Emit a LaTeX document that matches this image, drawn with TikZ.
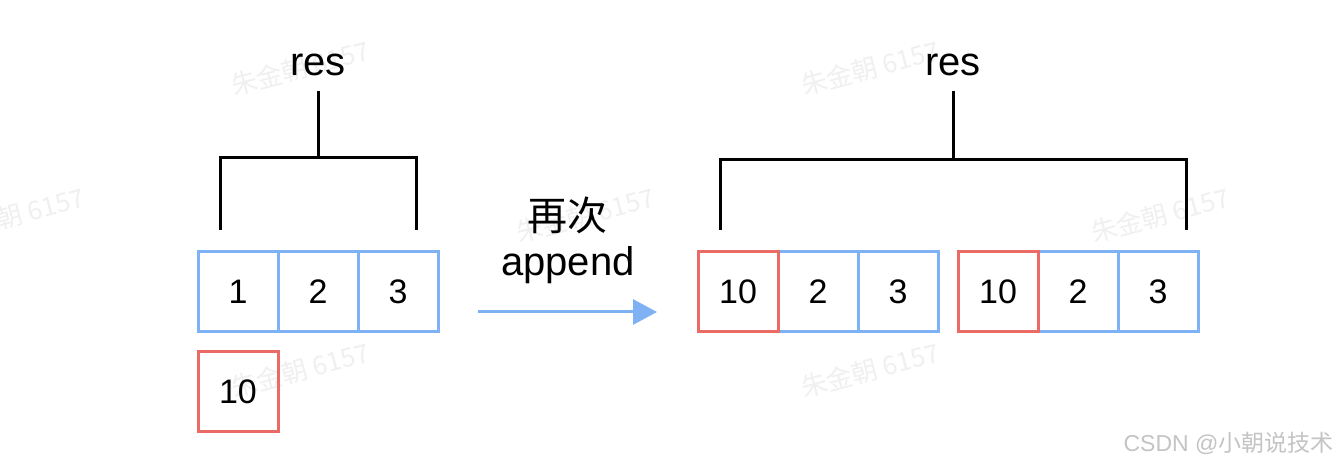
\documentclass[tikz,border=0pt]{standalone}
\usepackage{fontspec}
\setmainfont{Liberation Sans}
\newfontfamily\cjk{Noto Sans CJK SC}
\usetikzlibrary{positioning, arrows.meta}

\definecolor{cellblue}{RGB}{126,178,245}
\definecolor{cellred}{RGB}{234,107,102}
\definecolor{markgray}{RGB}{240,240,240}
\definecolor{csdngray}{RGB}{196,196,196}

\tikzset{
    cell/.style={draw=cellblue, line width=3pt, minimum size=80pt, inner sep=0pt,
                 outer sep=0pt, font=\fontsize{34}{40}\selectfont},
    hot/.style={cell, draw=cellred},
    tag/.style={inner sep=0pt, font=\fontsize{40}{48}\selectfont},
    brace/.style={line width=3pt},
    wmark/.style={text=markgray, rotate=15, font=\cjk\fontsize{26}{30}\selectfont}
}

\begin{document}
\begin{tikzpicture}[x=1pt, y=1pt]
    \useasboundingbox [fill=white] (0, 0) rectangle (1342, 468);

    % watermarks
    \foreach \wx/\wy [count=\i] in {300/400, 870/400, 15/253, 585/253, 1160/253, 300/98, 870/98}
        \node [wmark] (wm\i) at (\wx, \wy) {朱金朝 6157};
    \node [anchor=east, text=csdngray, font=\fontsize{23}{28}\selectfont] (csdn) at (1337, 25)
        {CSDN @{\cjk 小朝说技术}};

    % res before
    \node [cell] (a1) at (238, 176) {1};
    \node [cell, right=0pt of a1] (a2) {2};
    \node [cell, right=0pt of a2] (a3) {3};
    \node [hot, below=20pt of a1] (x0) {10};

    \node [tag, anchor=base] (res1) at (318, 392) {res};
    \coordinate (j1) at (318, 310);
    \coordinate (l1) at (220, 238);
    \coordinate (r1) at (416, 238);
    \draw [brace, shorten <=14pt] (res1.south) -- (j1);
    \draw [brace] (l1) |- (j1) -| (r1);

    % append again
    \node [tag, font=\cjk\fontsize{40}{48}\selectfont, anchor=base] (again) at (567, 237) {再次};
    \node [tag, anchor=base] (append) at (568, 192) {append};
    \coordinate (arrS) at (478, 156);
    \coordinate (arrE) at (657, 156);
    \draw [cellblue, line width=3pt, -{Triangle[length=24pt, width=25pt]}] (arrS) -- (arrE);

    % res after
    \node [cell] (b2) at (818, 176) {2};
    \node [cell, right=0pt of b2] (b3) {3};
    \node [hot, left=0pt of b2] (b1) {10};
    \node [cell] (c2) at (1078, 176) {2};
    \node [cell, right=0pt of c2] (c3) {3};
    \node [hot, left=0pt of c2] (c1) {10};

    \node [tag, anchor=base] (res2) at (953, 392) {res};
    \coordinate (j2) at (953, 308);
    \coordinate (l2) at (720, 238);
    \coordinate (r2) at (1186, 238);
    \draw [brace, shorten <=14pt] (res2.south) -- (j2);
    \draw [brace] (l2) |- (j2) -| (r2);
\end{tikzpicture}
\end{document}
